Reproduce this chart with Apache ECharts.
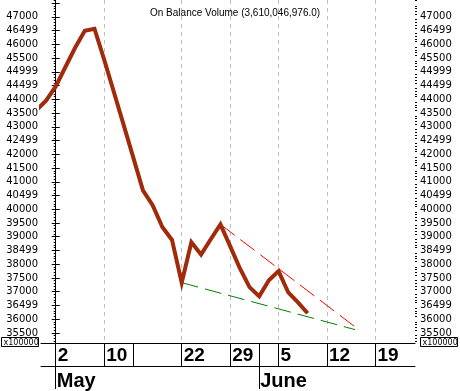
<!DOCTYPE html>
<html>
<head>
<meta charset="utf-8">
<script src="https://cdn.jsdelivr.net/npm/echarts@6/dist/echarts.min.js"></script>
<style>html,body{margin:0;padding:0;background:#fff}#c{width:460px;height:391px}</style>
</head>
<body>
<div id="c"></div>
<script>
// trading-day index (0 = 2 May)
var days = [-2,-1,0,1,2,3,4,5,6,7,8,9,10,11,12,13,14,15,16,17,18,19,20,21,22,23,24,25,26];
var obv  = [43600,43950,44470,45175,45875,46495,46567,45442,44266,43079,41885,40688,40147,39353,38884,37330,38800,38350,38910,39450,38657,37856,37167,36830,37420,37750,36973,36612,36215];
// trend lines [day, value]
var resistDays = [17, 31.2];
var resistVals = [39450, 35638];
var supportDays = [13, 30.9];
var supportVals = [37330, 35620];
// x axis labels
var gridDays = [0,5,13,18,23,28,33];
var gridLabels = ['2','10','22','29','5','12','19'];
var sepDays = [0,5,8,13,18,21,23,28,33];
var monthDays = [0,21];
var monthLabels = ['May','June'];
// y axis tick labels
var yTickVals = [35500,36000,36500,37000,37500,38000,38500,39000,39500,40000,40500,41000,41500,42000,42500,43000,43500,44000,44500,45000,45500,46000,46500,47000];
var yTickLabels = ['35500','36000','36499','37000','37500','38000','38499','39000','39500','40000','40499','41000','41500','42000','42499','43000','43500','44000','44499','44999','45500','46000','46499','47000'];
var titleText = 'On Balance Volume (3,610,046,976.0)';
var scaleText = 'x100000';

var yMin = 35134, yMax = 47613, xMin = -1.52, xMax = 37.08;
var majorTicks = yTickVals.concat([47500]);
var minorTicks = [];
for (var v = 35200; v <= 47600; v += 100) { if (v % 500 !== 0) minorTicks.push(v); }

var lineData = days.map(function(d,i){return [d, obv[i]];});
var resData = resistDays.map(function(d,i){return [d, resistVals[i]];});
var supData = supportDays.map(function(d,i){return [d, supportVals[i]];});

var FONT = 'DejaVu Sans';
function yAxisMain(pos, margin) {
  return {
    type:'value', position:pos, min:yMin, max:yMax, offset:0,
    axisLine:{show:true, lineStyle:{color:'#000', width:1}},
    axisTick:{show:true, inside:false, length:4, customValues:majorTicks, lineStyle:{color:'#000'}},
    axisLabel:{show:true, customValues:yTickVals, margin:margin, color:'#000', fontSize:10, fontFamily:FONT,
      formatter:function(v){var k=yTickVals.indexOf(Math.round(v));return k>=0?yTickLabels[k]:'';}},
    splitLine:{show:false}
  };
}
function yAxisMinor(pos) {
  return {
    type:'value', position:pos, min:yMin, max:yMax, offset:0,
    axisLine:{show:false},
    axisTick:{show:true, inside:false, length:2, customValues:minorTicks, lineStyle:{color:'#000'}},
    axisLabel:{show:false}, splitLine:{show:false}
  };
}

var chart = echarts.init(document.getElementById('c'), null, {renderer:'canvas'});
chart.setOption({
  animation:false,
  backgroundColor:'#fff',
  title:{text:titleText, left:145, top:3, textStyle:{fontSize:10, fontWeight:'normal', color:'#000', fontFamily:'Liberation Sans'}},
  grid:{left:41, right:45, top:0, bottom:45, containLabel:false},
  xAxis:[
    {type:'value', position:'bottom', min:xMin, max:xMax, offset:0,
     axisLine:{show:true, onZero:false, lineStyle:{color:'#000', width:1}},
     axisTick:{show:false, customValues:gridDays},
     axisLabel:{show:true, customValues:gridDays, align:'left', verticalAlign:'top', margin:3, padding:[0,0,0,2],
       color:'#000', fontSize:19, fontWeight:'bold', fontFamily:'Liberation Sans',
       formatter:function(v){var k=gridDays.indexOf(Math.round(v));return k>=0?gridLabels[k]:'';}},
     splitLine:{show:true, lineStyle:{color:'#bdbdbd', type:[4,4], width:1}}},
    {type:'value', position:'bottom', min:xMin, max:xMax, offset:0,
     axisLine:{show:false, onZero:false},
     axisTick:{show:true, inside:false, length:23, customValues:sepDays, lineStyle:{color:'#000', width:1}},
     axisLabel:{show:false}, splitLine:{show:false}},
    {type:'value', position:'bottom', min:xMin, max:xMax, offset:23,
     axisLine:{show:true, onZero:false, lineStyle:{color:'#000', width:1}},
     axisTick:{show:true, inside:false, length:23, customValues:monthDays, lineStyle:{color:'#000', width:1}},
     axisLabel:{show:true, customValues:monthDays, align:'left', verticalAlign:'top', margin:5, padding:[0,0,0,1],
       color:'#000', fontSize:20, fontWeight:'bold', fontFamily:'Liberation Sans',
       formatter:function(v){var k=monthDays.indexOf(Math.round(v));return k>=0?monthLabels[k]:'';}},
     splitLine:{show:false}}
  ],
  yAxis:[ yAxisMain('left',3), yAxisMinor('left'), yAxisMain('right',5), yAxisMinor('right') ],
  series:[
    {type:'line', data:resData, xAxisIndex:0, yAxisIndex:0, symbol:'none', clip:true,
     lineStyle:{color:'#ff0000', width:1, type:[18,7]}, z:2},
    {type:'line', data:supData, xAxisIndex:0, yAxisIndex:0, symbol:'none', clip:true,
     lineStyle:{color:'#008000', width:1, type:[17,7]}, z:2},
    {type:'line', data:lineData, xAxisIndex:0, yAxisIndex:0, symbol:'none', clip:true,
     lineStyle:{color:'#a02a0a', width:4, join:'miter'}, z:3}
  ],
  graphic:[
    {type:'group', left:1, top:337, children:[
      {type:'rect', shape:{x:0,y:0,width:37,height:9}, style:{fill:'#fff', stroke:'#000', lineWidth:1}},
      {type:'text', x:2, y:1, style:{text:scaleText, fontSize:8, fontFamily:FONT, fill:'#000'}}
    ]},
    {type:'group', left:420, top:337, children:[
      {type:'rect', shape:{x:0,y:0,width:37,height:9}, style:{fill:'#fff', stroke:'#000', lineWidth:1}},
      {type:'text', x:2, y:1, style:{text:scaleText, fontSize:8, fontFamily:FONT, fill:'#000'}}
    ]}
  ]
});
</script>
</body>
</html>
